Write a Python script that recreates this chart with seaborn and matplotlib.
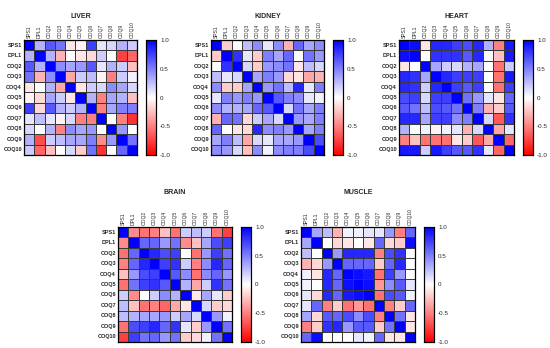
import numpy as np
import pandas as pd
import seaborn as sns
from matplotlib import pyplot as plt

genes = ['SPS1', 'DPL1', 'COQ2', 'COQ3', 'COQ4', 'COQ5',
         'COQ6', 'COQ7', 'COQ8', 'COQ9', 'COQ10']

liver = [
    [1.00, 0.30, 0.65, 0.55, -0.10, -0.05, 0.75, 0.10, 0.15, 0.30, 0.20],
    [0.30, 1.00, 0.30, -0.30, 0.00, -0.10, -0.15, 0.20, 0.00, -0.75, -0.60],
    [0.65, 0.30, 1.00, 0.45, 0.35, 0.40, 0.65, 0.10, 0.30, 0.20, -0.25],
    [0.55, -0.30, 0.45, 1.00, -0.35, 0.20, 0.25, -0.05, -0.50, 0.20, 0.05],
    [-0.10, 0.00, 0.30, -0.35, 1.00, -0.10, 0.20, 0.15, 0.45, 0.35, 0.15],
    [-0.05, -0.15, 0.35, 0.20, -0.10, 1.00, 0.30, -0.50, 0.35, 0.30, -0.25],
    [0.75, -0.15, 0.65, 0.30, 0.20, 0.30, 1.00, -0.50, 0.35, 0.50, 0.50],
    [0.10, 0.25, 0.10, -0.05, 0.15, -0.50, -0.50, 1.00, 0.00, -0.50, -0.80],
    [0.15, 0.00, 0.30, -0.50, 0.45, 0.35, 0.40, 0.00, 1.00, 0.40, 0.00],
    [0.30, -0.70, 0.20, 0.25, 0.35, 0.35, 0.50, -0.45, 0.40, 1.00, 0.55],
    [0.20, -0.60, -0.25, 0.00, 0.15, -0.20, 0.55, -0.80, 0.00, 0.60, 1.00],
]

kidney = [
    [1.00, -0.20, 0.00, 0.25, 0.45, 0.10, 0.45, -0.30, 0.60, 0.35, 0.45],
    [-0.20, 1.00, 0.80, 0.10, -0.20, 0.50, 0.35, 0.60, 0.00, 0.55, 0.40],
    [0.00, 0.80, 1.00, 0.15, -0.20, 0.40, 0.45, 0.55, -0.10, 0.25, 0.15],
    [0.25, 0.10, 0.15, 1.00, 0.35, 0.50, 0.40, -0.15, -0.10, -0.35, -0.30],
    [0.45, -0.20, -0.20, 0.35, 1.00, 0.40, 0.55, 0.25, 0.85, 0.10, 0.50],
    [0.10, 0.50, 0.40, 0.50, 0.40, 1.00, 0.65, 0.50, 0.45, 0.10, 0.05],
    [0.45, 0.30, 0.30, 0.35, 0.60, 0.65, 1.00, 0.15, 0.55, 0.35, 0.50],
    [-0.30, 0.60, 0.55, -0.15, 0.20, 0.35, 0.15, 1.00, 0.40, 0.35, 0.50],
    [0.60, 0.00, -0.10, -0.15, 0.85, 0.45, 0.50, 0.40, 1.00, 0.35, 0.50],
    [0.35, 0.50, 0.25, -0.35, 0.15, 0.10, 0.35, 0.35, 0.40, 1.00, 0.70],
    [0.45, 0.40, 0.15, -0.25, 0.45, 0.05, 0.45, 0.50, 0.50, 0.70, 1.00],
]

heart = [
    [1.00, 0.95, -0.10, 0.85, 0.85, 0.75, 0.70, 0.85, 0.30, -0.50, 0.90],
    [0.95, 1.00, 0.00, 0.80, 0.80, 0.80, 0.65, 0.85, 0.00, -0.25, 0.90],
    [-0.10, 0.00, 1.00, 0.35, 0.20, 0.15, 0.30, 0.35, 0.00, -0.55, 0.20],
    [0.85, 0.80, 0.35, 1.00, 0.85, 0.75, 0.75, 0.75, 0.00, -0.55, 0.90],
    [0.85, 0.80, 0.20, 0.85, 1.00, 0.75, 0.65, 0.75, 0.00, -0.55, 0.75],
    [0.70, 0.75, 0.15, 0.75, 0.75, 1.00, 0.55, 0.40, 0.10, -0.10, 0.60],
    [0.65, 0.55, 0.25, 0.70, 0.65, 0.55, 1.00, 0.50, -0.30, -0.20, 0.65],
    [0.85, 0.85, 0.35, 0.75, 0.75, 0.45, 0.50, 1.00, 0.15, -0.65, 0.80],
    [0.30, 0.00, 0.05, -0.05, 0.05, 0.10, -0.30, 0.15, 1.00, -0.35, 0.10],
    [-0.50, -0.25, -0.55, -0.55, -0.55, -0.10, -0.20, -0.65, -0.35, 1.00, -0.60],
    [0.90, 0.90, 0.20, 0.90, 0.75, 0.65, 0.65, 0.80, 0.10, -0.60, 1.00],
]

brain = [
    [1.00, -0.45, -0.55, -0.50, -0.25, -0.55, 0.20, 0.25, 0.20, -0.55, -0.75],
    [-0.45, 1.00, 0.60, 0.60, 0.40, 0.55, -0.45, -0.25, 0.35, 0.70, 0.75],
    [-0.55, 0.60, 1.00, 0.85, 0.70, 0.75, 0.00, -0.55, 0.40, 0.75, 0.55],
    [-0.50, 0.60, 0.85, 1.00, 0.75, 0.80, 0.20, -0.50, 0.45, 0.85, 0.60],
    [-0.25, 0.40, 0.70, 0.75, 1.00, 0.65, 0.45, -0.55, 0.45, 0.60, 0.40],
    [-0.55, 0.55, 0.75, 0.80, 0.65, 1.00, 0.30, -0.35, 0.20, 0.80, 0.55],
    [0.20, -0.45, 0.00, 0.20, 0.45, 0.30, 1.00, -0.10, 0.35, 0.10, -0.20],
    [0.25, -0.25, -0.55, -0.50, -0.60, -0.35, -0.10, 1.00, 0.15, -0.20, -0.15],
    [0.25, 0.30, 0.35, 0.35, 0.40, 0.20, 0.35, 0.15, 1.00, 0.40, 0.05],
    [-0.55, 0.70, 0.75, 0.85, 0.60, 0.80, 0.10, -0.20, 0.40, 1.00, 0.55],
    [-0.75, 0.75, 0.55, 0.60, 0.40, 0.55, -0.20, -0.15, 0.05, 0.55, 1.00],
]

muscle = [
    [1.00, 0.35, 0.25, -0.30, 0.05, 0.05, 0.10, 0.10, 0.40, -0.50, 0.60],
    [0.35, 1.00, 0.00, -0.15, -0.10, 0.00, -0.10, 0.60, -0.15, -0.20, 0.95],
    [0.25, 0.00, 1.00, 0.40, 0.85, 0.85, 0.85, -0.50, 0.70, 0.80, 0.00],
    [-0.30, -0.15, 0.40, 1.00, 0.60, 0.60, 0.60, -0.20, 0.60, 0.85, 0.00],
    [0.05, -0.10, 0.85, 0.60, 1.00, 0.95, 0.90, -0.55, 0.75, 0.40, 0.00],
    [0.05, 0.00, 0.85, 0.60, 0.95, 1.00, 0.95, -0.40, 0.45, 0.65, 0.10],
    [0.10, -0.15, 0.85, 0.60, 0.90, 0.95, 1.00, -0.55, 0.70, 0.65, 0.05],
    [0.10, 0.60, -0.50, -0.20, -0.55, -0.40, -0.55, 1.00, -0.50, -0.20, 0.60],
    [0.35, -0.15, 0.65, 0.60, 0.70, 0.45, 0.70, -0.50, 1.00, 0.55, -0.10],
    [-0.50, -0.20, 0.80, 0.85, 0.40, 0.65, 0.65, -0.20, 0.55, 1.00, -0.10],
    [0.60, 0.95, 0.00, 0.00, 0.00, 0.10, 0.05, 0.60, -0.10, -0.10, 1.00],
]

tissues = ['LIVER', 'KIDNEY', 'HEART', 'BRAIN', 'MUSCLE']
matrices = [liver, kidney, heart, brain, muscle]

# pixel boxes (left, top, right, bottom) of each grid and its colorbar
W, H = 550, 348
grid_px = [(24, 40, 137, 155), (211, 40, 324, 155), (399, 40, 514, 155),
           (118, 227, 232, 342), (301, 227, 415, 342)]
cbar_px = [(146, 156), (333, 343), (523, 533), (241, 251), (424, 434)]
title_y = [17, 17, 17, 193, 193]


def to_rect(l, t, r, b):
    return [l / W, 1 - b / H, (r - l) / W, (b - t) / H]


sns.set_theme(style='white')
plt.rcParams['font.family'] = ['Liberation Sans', 'DejaVu Sans']

fig = plt.figure(figsize=(5.5, 3.48), dpi=100)

for name, mat, g, c, ty in zip(tissues, matrices, grid_px, cbar_px, title_y):
    ax = fig.add_axes(to_rect(*g))
    cax = fig.add_axes(to_rect(c[0], g[1], c[1], g[3]))
    df = pd.DataFrame(np.array(mat), index=genes, columns=genes)
    sns.heatmap(df, ax=ax, cbar_ax=cax, cmap='bwr_r', vmin=-1, vmax=1,
                linewidths=0.4, linecolor='#3a3a3a',
                xticklabels=genes, yticklabels=genes)

    ax.xaxis.tick_top()
    ax.tick_params(length=0, pad=1.5)
    plt.setp(ax.get_xticklabels(), rotation=90, fontsize=3.6, ha='center', va='bottom')
    plt.setp(ax.get_yticklabels(), rotation=0, fontsize=4, fontweight='bold')
    for spine in ax.spines.values():
        spine.set_visible(True)
        spine.set_color('black')
        spine.set_linewidth(0.9)
    fig.text((g[0] + g[2]) / 2 / W, 1 - ty / H, name, fontsize=5,
             fontweight='bold', ha='center', va='center')

    cax.set_yticks([-1, -0.5, 0, 0.5, 1])
    cax.set_yticklabels(['-1.0', '-0.5', '0', '0.5', '1.0'])
    cax.tick_params(direction='in', length=1.5, width=0.5, labelsize=4.5, pad=3)
    for spine in cax.spines.values():
        spine.set_visible(True)
        spine.set_color('black')
        spine.set_linewidth(0.8)

fig.savefig('out.png', dpi=100)
